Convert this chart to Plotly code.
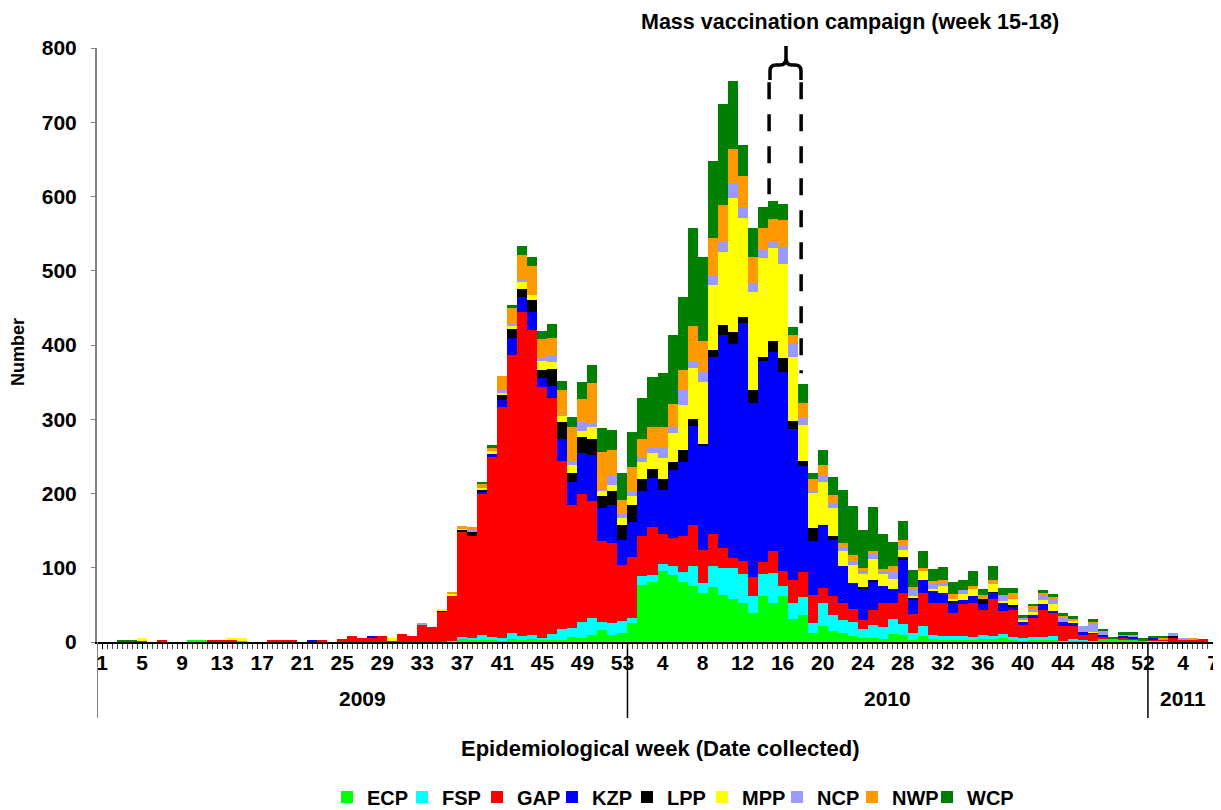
import plotly.graph_objects as go

# ---------------- data ----------------
years = ["2009"] * 53 + ["2010"] * 52 + ["2011"] * 7
weeks = list(range(1, 54)) + list(range(1, 53)) + list(range(1, 8))

ECP = [0,0,0,0,0,0,0,0,0,2, 2,0,0,0,2,0,0,0,0,0, 0,0,0,0,0,0,0,0,0,0,
       0,0,0,0,0,0,4,3,3,3, 2,4,3,4,3,3,3,7,5,9, 16,9,12,
       25,77,81,95,90,81,75,66,74,63, 58,53,39,62,53,62,31,36,12,22,
       15,12,8,6,6,4,11,9,3,8, 4,3,3,3,3,4,4,5,3,2, 3,3,3,1,1,2,1,4,4,4,3,2,
       0,0,0,0,0,0,0]
FSP = [0]*30 + [0,0,0,0,0,1,3,3,7,4, 4,8,5,5,3,8,15,12,22,23, 11,16,16,
       8,12,9,10,13,13,27,13,29,36, 42,38,23,30,40,14,22,25,13,31,
       22,17,19,12,17,16,20,15,9,13, 6,5,5,5,4,6,4,6,4,4, 4,4,5,1,3,1,1,0,0,0,0,0,
       1,1,0,0,0,0,0]
GAP = [0,0,0,0,2,0,2,0,0,0, 0,2,2,3,0,0,0,2,2,2, 0,0,2,0,4,8,5,5,8,2,
       11,8,23,20,41,62,141,137,189,242, 311,374,436,411,337,318,226,166,172,158, 109,109,76,
       81,54,65,40,37,49,56,45,43,28, 13,18,26,16,29,20,30,33,38,20,
       25,23,18,12,20,33,21,42,26,45, 43,44,31,43,45,33,50,31,36,17, 26,36,31,20,18,6,10,4,0,2,2,0,
       3,3,5,3,3,4,0]
KZP = [0]*20 + [0,2,0,0,0,0,0,3,0,0, 0,0,0,0,0,0,0,0,3,4,
       9,24,20,24,12,16,30,31,55,62, 44,50,34,
       48,61,66,60,92,100,133,140,238,286, 288,320,234,271,269,267,204,143,73,84,
       76,50,35,41,38,22,19,45,19,18, 16,14,13,6,10,8,8,11,4,5, 3,8,3,5,3,4,1,2,0,3,2,0,
       1,0,0,0,0,0,0]
LPP = [0]*30 + [0,0,0,0,1,0,3,5,3,0, 7,11,11,16,12,23,22,12,22,22, 16,20,20,
       23,16,12,14,11,15,9,3,9,14, 17,9,17,5,15,19,10,7,18,1,
       5,0,0,3,3,0,0,4,2,0, 0,0,4,0,0,7,2,0,3,0, 0,0,0,0,0,0,0,0,0,0,0,0,
       0,0,3,0,0,0,0]
MPP = [0,0,0,0,3,0,0,0,0,0, 0,0,0,3,3,0,0,0,0,0, 0,0,0,0,0,0,0,0,0,3,
       0,0,0,0,3,1,1,0,3,4, 3,4,11,7,11,9,9,11,8,16, 8,8,9,
       11,23,22,29,39,61,69,83,88,98, 180,133,132,133,125,127,87,48,47,57,
       37,21,24,18,28,16,14,9,3,11, 3,9,2,7,9,0,11,2,8,1, 4,5,9,0,3,0,1,0,0,0,0,0,
       0,0,0,0,0,0,0]
NCP = [0]*30 + [0,0,3,0,0,0,0,3,0,0, 3,3,1,0,4,9,1,4,12,5, 1,12,5,
       8,6,6,13,8,20,9,13,12,14, 20,15,13,11,8,23,17,10,3,9,
       7,5,5,3,6,4,9,5,10,0, 6,4,0,6,0,0,1,8,0,4, 3,7,6,5,0,9,10,5,0,1,2,0,
       0,0,4,3,0,0,0]
NWP = [0]*30 + [0,0,0,0,0,3,4,4,5,4, 19,22,34,40,26,24,34,47,31,54, 51,35,19,
       32,25,29,29,30,27,48,43,51,49, 46,41,35,30,31,36,12,20,15,15,
       11,5,8,4,5,3,9,8,2,4, 4,5,6,0,4,5,4,0,8,0, 5,3,3,3,3,0,3,0,0,0,0,0,
       0,2,0,0,3,0,0]
WCP = [0,0,2,2,0,0,0,0,0,0] + [0]*20 + [0,0,0,0,0,0,0,0,3,4,
       0,4,12,11,11,18,12,13,23,24, 32,26,36,
       47,55,67,72,93,99,131,112,104,137, 91,42,38,28,24,22,11,25,8,20,
       24,72,66,52,59,48,32,26,23,24, 16,17,17,13,20,8,19,10,7,3, 3,4,4,4,4,0,4,3,3,3,4,3,
       3,2,0,0,0,0,0]

series_names = ["ECP", "FSP", "GAP", "KZP", "LPP", "MPP", "NCP", "NWP", "WCP"]
series_values = [ECP, FSP, GAP, KZP, LPP, MPP, NCP, NWP, WCP]
series_colors = ["#00FF00", "#00FFFF", "#FF0000", "#0000FF", "#000000",
                 "#FFFF00", "#9999FF", "#FF9900", "#008000"]

# tick labels shown on the axis (year, week)
shown_ticks = ([("2009", w) for w in range(1, 54, 4)] +
               [("2010", w) for w in range(4, 53, 4)] +
               [("2011", 4), ("2011", 7)])
campaign = (("2010", 15), ("2010", 18))

# ---------------- figure ----------------
OFF = 8                       # default page body margin
W, H = 1221 - OFF, 810 - OFF
L, T = 97 - OFF, 48 - OFF
pw, ph = 1121, 594
R, B = W - L - pw, H - T - ph

x_idx = list(range(len(weeks)))
key_to_idx = {(y, w): i for i, (y, w) in enumerate(zip(years, weeks))}

fig = go.Figure()
for name, vals, col in zip(series_names, series_values, series_colors):
    fig.add_trace(go.Bar(x=x_idx, y=vals, name=name, marker_color=col,
                         marker_line_width=0))
# empty spacer entry so that the last legend label is not clipped
fig.add_trace(go.Bar(x=[x_idx[0]], y=[0], name="", marker_color="rgba(0,0,0,0)",
                     marker_line_width=0, hoverinfo="skip"))

FONT = "Liberation Sans, Arial, sans-serif"

tickvals = [key_to_idx[k] for k in shown_ticks]
ticktext = [str(k[1]) for k in shown_ticks]

# screen-pixel -> paper coordinates
def px_x(x):
    return (x - OFF - L) / pw

def px_y(y):
    return (T + ph - (y - OFF)) / ph

annotations = []
shapes = []

# year labels and separators
year_order = ["2009", "2010", "2011"]
for yr in year_order:
    idxs = [i for i, y in enumerate(years) if y == yr]
    annotations.append(dict(x=(idxs[0] + idxs[-1]) / 2, y=px_y(698), xref="x", yref="paper",
                            text=yr, showarrow=False, xanchor="center", yanchor="middle",
                            font=dict(size=21, family=FONT, weight="bold", color="black")))
bounds = [-0.5] + [max(i for i, y in enumerate(years) if y == yr) + 0.5 for yr in year_order]
for k, b in enumerate(bounds):
    shapes.append(dict(type="line", xref="x", yref="paper", x0=b, x1=b, y0=0, y1=px_y(718),
                       line=dict(color="#808080" if k == 0 else "black", width=2 if k == 0 else 1.5)))

# axis titles
annotations.append(dict(x=px_x(660), y=px_y(748), xref="paper", yref="paper",
                        text="Epidemiological week (Date collected)", showarrow=False,
                        xanchor="center", yanchor="middle",
                        font=dict(size=22, family=FONT, weight="bold")))
annotations.append(dict(x=px_x(18), y=px_y(352), xref="paper", yref="paper", text="Number",
                        textangle=-90, showarrow=False, xanchor="center", yanchor="middle",
                        font=dict(size=18, family=FONT, weight="bold")))
# campaign title
annotations.append(dict(x=px_x(850), y=px_y(22), xref="paper", yref="paper",
                        text="Mass vaccination campaign (week 15-18)", showarrow=False,
                        xanchor="center", yanchor="middle",
                        font=dict(size=21.5, family=FONT, weight="bold")))

# brace (pixel-designed path converted to paper coords)
def P(x, y):
    return f"{px_x(x):.5f},{px_y(y):.5f}"

brace = (f"M {P(786,46)} L {P(786,58)} Q {P(786,65)} {P(780,65)} L {P(776,65)} "
         f"Q {P(770,65)} {P(770,71)} L {P(770,80)} "
         f"M {P(786,58)} Q {P(786,65)} {P(792,65)} L {P(795,65)} "
         f"Q {P(801,65)} {P(801,71)} L {P(801,80)}")
shapes.append(dict(type="path", xref="paper", yref="paper", path=brace,
                   line=dict(color="black", width=3.5)))

c0 = key_to_idx[campaign[0]] - 0.35
c1 = key_to_idx[campaign[1]] - 0.15
shapes.append(dict(type="line", xref="x", yref="y", x0=c0, x1=c0, y0=754, y1=603,
                   line=dict(color="black", width=3.5, dash="17px,15px")))
shapes.append(dict(type="line", xref="x", yref="y", x0=c1, x1=c1, y0=754, y1=362,
                   line=dict(color="black", width=3.5, dash="17px,15px")))

fig.update_layout(
    width=W, height=H,
    margin=dict(l=L, r=R, t=T, b=B, autoexpand=False),
    barmode="stack", bargap=0,
    plot_bgcolor="white", paper_bgcolor="white",
    font=dict(family=FONT, color="black"),
    legend=dict(orientation="h", x=px_x(702), xanchor="center", y=px_y(797), yanchor="middle",
                font=dict(size=20, family=FONT, weight="bold"), entrywidth=30,
                itemwidth=30, traceorder="normal"),
    annotations=annotations, shapes=shapes,
)
fig.update_xaxes(range=[-0.5, len(weeks) - 0.5], tickmode="array", tickvals=tickvals,
                 ticktext=ticktext, ticks="outside", ticklen=5, tickcolor="black",
                 showline=True, linecolor="black", linewidth=1.5, showgrid=False,
                 zeroline=False, ticklabelstandoff=-4, automargin=False,
                 tickfont=dict(size=21, family=FONT, weight="bold"),
                 minor=dict(ticks="outside", dtick=0.5, tick0=-0.5, ticklen=5,
                            tickcolor="#444", showgrid=False))
fig.update_yaxes(range=[0, 800], dtick=100, ticks="outside", ticklen=4, tickcolor="#808080",
                 showline=True, linecolor="#808080", linewidth=2, showgrid=False,
                 zeroline=False, ticklabelstandoff=10, automargin=False,
                 tickfont=dict(size=21, family=FONT, weight="bold"))

fig.write_html("out.html")
